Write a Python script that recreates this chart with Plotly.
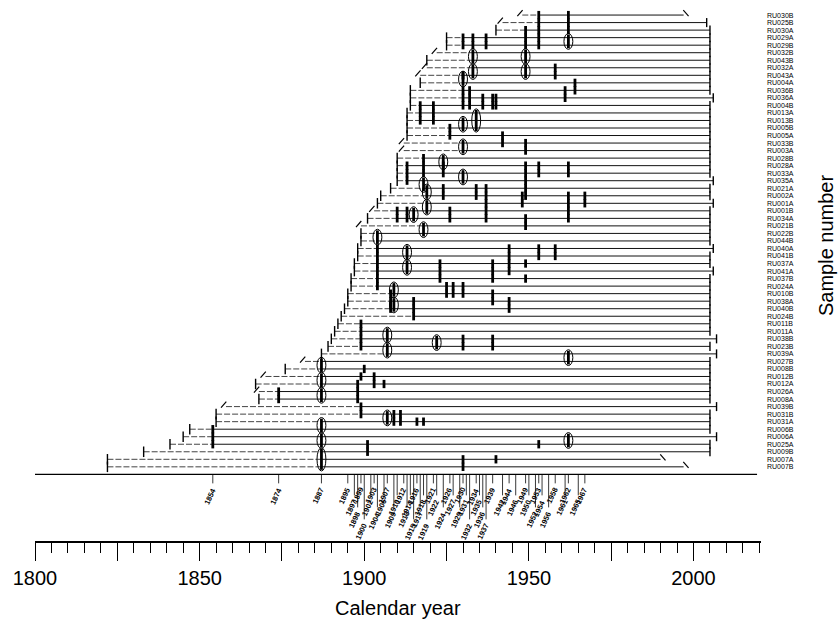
import plotly.graph_objects as go

samples = ["RU030B","RU025B","RU030A","RU029A","RU029B","RU032B","RU043B","RU032A","RU043A","RU004A",
           "RU036B","RU036A","RU004B","RU013A","RU013B","RU005B","RU005A","RU033B","RU003A","RU028B",
           "RU028A","RU033A","RU035A","RU021A","RU002A","RU001A","RU001B","RU034A","RU021B","RU022B",
           "RU044B","RU040A","RU041B","RU037A","RU041A","RU037B","RU024A","RU010B","RU038A","RU040B",
           "RU024B","RU011B","RU011A","RU038B","RU023B","RU039A","RU027B","RU008B","RU012B","RU012A",
           "RU026A","RU008A","RU039B","RU031B","RU031A","RU006B","RU006A","RU025A","RU009B","RU007A","RU007B"]

inner_year = [1948,1942,1940,1925,1925,1922,1919,1919,1917,1917,
              1914,1914,1914,1913,1913,1913,1913,1912,1912,1910,
              1910,1910,1910,1908,1905,1904,1903,1901,1899,1899,
              1899,1898,1898,1897,1897,1896,1896,1895,1895,1894,
              1893,1892,1891,1890,1889,1887,1882,1876,1870,1867,
              1868,1868,1858,1855,1855,1847,1845,1841,1833,1822,1822]
inner_kind = ["i","i","p","p","p","i","p","i","i","p",
              "p","p","p","p","p","p","p","i","i","p",
              "p","p","p","p","p","p","i","p","i","p",
              "p","p","p","p","p","p","p","p","p","p",
              "p","p","p","p","p","p","i","p","i","p",
              "i","p","i","p","p","p","p","p","p","p","p"]
outer_year = [1997,2004,2005,2005,2005,2005,2005,2005,2005,2005,
              2005,2006,2005,2005,2005,2005,2005,2005,2005,2005,
              2005,2005,2006,2005,2005,2006,2005,2005,2005,2005,
              2005,2006,2005,2005,2006,2005,2005,2005,2005,2005,
              2005,2005,2005,2007,2005,2007,2005,2005,2005,2005,
              2005,2005,2007,2005,2005,2005,2007,2005,2005,1990,1997]
outer_kind = ["o"] + ["b"] * 58 + ["o", "o"]

scar_years = [
    [1953,1962],[1953,1962],[1949,1953,1962],[1930,1933,1937,1949,1953],[1930,1933,1937,1949,1953],
    [],[],[1958],[1930,1958],[1964],
    [1930,1932,1961,1964],[1930,1932,1936,1939,1940,1961],[1917,1921,1930,1932,1936,1939,1940],[1917,1921],[1917,1921],
    [1926],[1926,1942],[1942,1949],[1949],[1918],
    [1913,1918,1924,1949,1953,1962],[1913,1918,1924,1949,1953,1962],[1913,1949],[1924,1934,1937,1949],[1924,1934,1937,1948,1949,1962,1967],
    [1937,1948,1962,1967],[1910,1913,1926,1937,1962],[1910,1913,1926,1937,1949,1962],[1949],[],
    [],[1904,1944,1953,1958],[1904,1944,1953,1958],[1904,1923,1939,1944,1949],[1904,1923,1939,1944],
    [1904,1923,1939,1949],[1904,1925,1927,1930],[1908,1925,1927,1930,1939],[1908,1915,1939,1944],[1908,1915,1944],
    [1915],[1899],[1899],[1899,1930,1939],[1899,1930,1939],
    [],[],[1900],[1899,1903],[1898,1903,1906],
    [1874,1898],[1874,1898],[1899],[1899,1909,1911],[1909,1911,1916,1918],
    [1854],[1854],[1854,1901,1953],[1901],[1930,1940],[1930]]

ellipse_year  = [1962,1933,1933,1949,1949,1930,1934,1930,1930,1924,1930,1918,1919,1919,1915,1918,1904,
                 1913,1913,1909,1909,1907,1907,1922,1962,1887,1887,1887,1887,1887,1887,1907,1962]
ellipse_first = ["RU029A","RU032B","RU032A","RU032B","RU032A","RU043A","RU013A","RU013B","RU033B","RU028B",
                 "RU033A","RU035A","RU021A","RU001A","RU001B","RU021B","RU022B",
                 "RU040A","RU037A","RU024A","RU038A","RU011A","RU023B","RU038B","RU039A",
                 "RU027B","RU012B","RU026A","RU031A","RU006A","RU009B","RU031B","RU006A"]
ellipse_last  = ["RU029B","RU043B","RU043A","RU043B","RU043A","RU004A","RU005B","RU005B","RU003A","RU028A",
                 "RU035A","RU021A","RU002A","RU001B","RU034A","RU022B","RU044B",
                 "RU041B","RU041A","RU010B","RU040B","RU038B","RU039A","RU023B","RU027B",
                 "RU008B","RU012A","RU008A","RU006B","RU025A","RU007B","RU031A","RU025A"]

fire_years = [1854,1874,1887,1895,1897,1898,1899,1900,1902,1903,1904,1906,1907,1909,1910,1912,1913,1914,
              1915,1916,1917,1918,1919,1921,1922,1924,1926,1927,1929,1930,1931,1932,1934,1935,1936,1937,
              1939,1942,1944,1946,1949,1950,1952,1953,1954,1956,1958,1961,1962,1965,1967]

axis_years = [1800, 1825, 1850, 1875, 1900, 1925, 1950, 1975, 2000]
axis_text = ["1800", "", "1850", "", "1900", "", "1950", "", "2000"]

# ---------------------------------------------------------------- geometry
idx = {n: i for i, n in enumerate(samples)}
n_rows = len(samples)
base_row = n_rows  # the baseline sits one row below the last sample
YR_PX = 726 / 220.5
ROW_PX = 7.53

fig = go.Figure()

def seg_trace(xs, ys, width, color="black", dash="solid"):
    fig.add_trace(go.Scatter(x=xs, y=ys, mode="lines", line=dict(color=color, width=width, dash=dash),
                             hoverinfo="skip", showlegend=False))

# events per row (scars and ellipse scars) -> first recorded fire
events = [list(s) for s in scar_years]
for yr, a, b in zip(ellipse_year, ellipse_first, ellipse_last):
    for r in range(idx[a], idx[b] + 1):
        events[r].append(yr)

# row lines: dashed before the first scar, solid afterwards
dx_, dy_, lx, ly = [], [], [], []
for r in range(n_rows):
    s, e = inner_year[r], outer_year[r]
    first = min(events[r]) if events[r] else e
    if first > s:
        dx_ += [s, first, None]; dy_ += [r, r, None]
    lx += [max(first, s), e, None]; ly += [r, r, None]
seg_trace(dx_, dy_, 1.0, "#444444", "6px,2px")
seg_trace(lx, ly, 1.0, "#111111")

# pith / bark bars and inner/outer slashes
bx, by, sx, sy = [], [], [], []
for r in range(n_rows):
    s, e = inner_year[r], outer_year[r]
    if inner_kind[r] == "p":
        bx += [s, s, None]; by += [r - 0.7, r + 0.7, None]
    else:
        sx += [s - 1.5, s + 0.1, None]; sy += [r + 0.15, r - 0.65, None]
    if outer_kind[r] == "b":
        bx += [e, e, None]; by += [r - 0.6, r + 0.6, None]
    else:
        sx += [e - 0.1, e + 1.5, None]; sy += [r - 0.65, r + 0.15, None]
seg_trace(bx, by, 1.4)
seg_trace(sx, sy, 1.2)

# fire scars
fx, fy = [], []
for r in range(n_rows):
    for yr in scar_years[r]:
        fx += [yr, yr, None]; fy += [r - 0.55, r + 0.55, None]
for yr, a, b in zip(ellipse_year, ellipse_first, ellipse_last):
    fx += [yr, yr, None]; fy += [idx[a] - 0.4, idx[b] + 0.4, None]
seg_trace(fx, fy, 2.8)

shapes = []
for yr, a, b in zip(ellipse_year, ellipse_first, ellipse_last):
    shapes.append(dict(type="circle", xref="x", yref="y", x0=yr - 1.35, x1=yr + 1.35,
                       y0=idx[a] - 0.55, y1=idx[b] + 0.55, line=dict(color="black", width=1)))

# baseline
shapes.append(dict(type="line", xref="x", yref="y", x0=1800, x1=2019.3, y0=base_row, y1=base_row,
                   line=dict(color="black", width=1.3)))

# fire-year leaders and labels (staggered)
gap_years = 11 / YR_PX
last_at_level = {}
annotations = []
ldx, ldy = [], []
for fy_ in fire_years:
    lvl = 0
    while lvl < 3 and lvl in last_at_level and fy_ - last_at_level[lvl] < gap_years:
        lvl += 1
    last_at_level[lvl] = fy_
    top = base_row + (9 + 12 * lvl) / ROW_PX
    ldx += [fy_, fy_, None]; ldy += [base_row, top, None]
    annotations.append(dict(x=fy_ - 0.9, y=top, xref="x", yref="y", text="<b>%d</b>" % fy_, showarrow=False,
                            textangle=-65, xanchor="center", yanchor="top",
                            font=dict(size=7.5, color="black", family="Liberation Sans")))
seg_trace(ldx, ldy, 0.9, "#222222")

annotations.append(dict(x=0.5, y=-0.124, xref="paper", yref="paper", text="Calendar year",
                        showarrow=False, xanchor="center", yanchor="middle",
                        font=dict(size=20, color="black", family="Liberation Sans")))
annotations.append(dict(x=1.0895, y=0.547, xref="paper", yref="paper", text="Sample number",
                        showarrow=False, textangle=-90, xanchor="center", yanchor="middle",
                        font=dict(size=20, color="black", family="Liberation Sans")))

fig.update_layout(
    width=840, height=623, margin=dict(l=35, r=79, t=0, b=82),
    paper_bgcolor="white", plot_bgcolor="white",
    shapes=shapes, annotations=annotations, showlegend=False,
    xaxis=dict(range=[1800, 2020.5], tickmode="array", tickvals=axis_years, ticktext=axis_text,
               ticks="outside", ticklen=18, tickwidth=1.2, tickcolor="black",
               minor=dict(tick0=1800, dtick=5, ticks="outside", ticklen=10, tickwidth=1, tickcolor="black"),
               showline=True, linecolor="black", linewidth=1.5, showgrid=False, zeroline=False,
               tickfont=dict(size=20, color="black", family="Liberation Sans")),
    yaxis=dict(range=[69.85, -2.0], side="right", tickmode="array", tickvals=list(range(n_rows)),
               ticktext=samples, ticks="", showgrid=False, zeroline=False, showline=False,
               ticklabelstandoff=5,
               tickfont=dict(size=7, color="black", family="Liberation Sans")),
)

fig.write_html("out.html")
